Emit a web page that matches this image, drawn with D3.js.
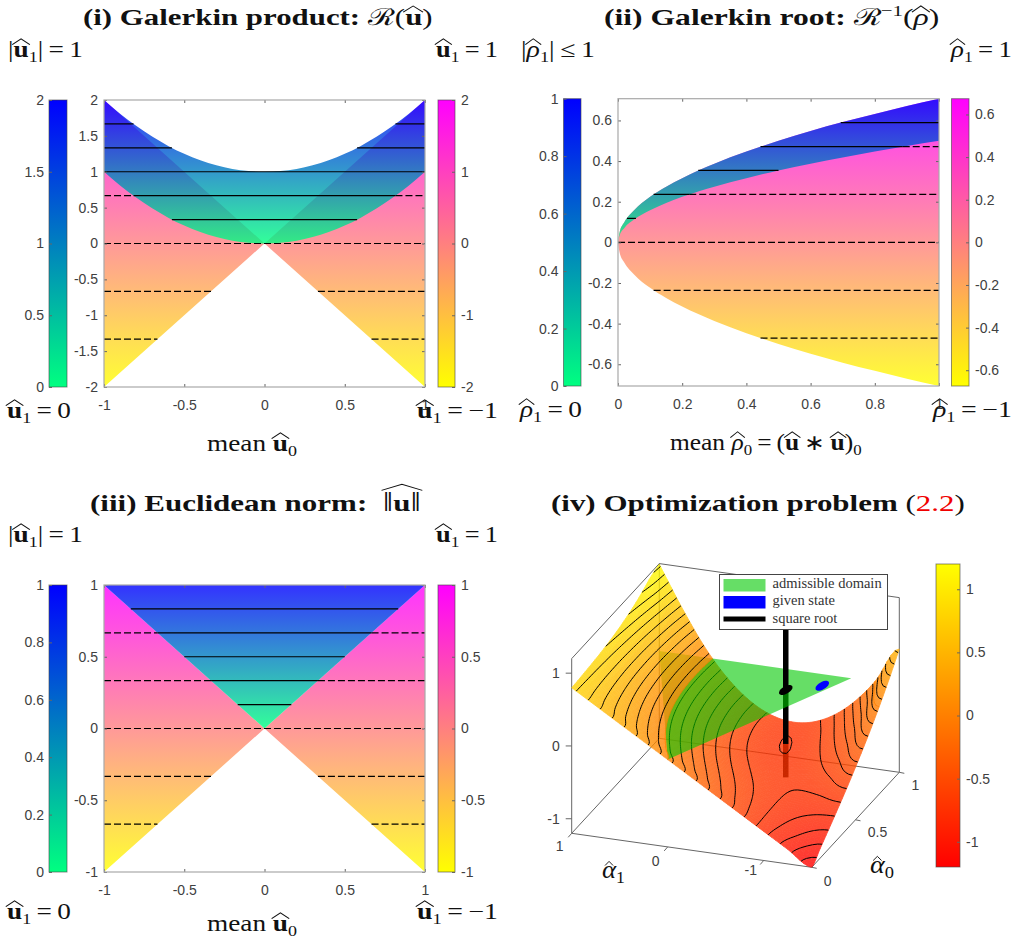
<!DOCTYPE html>
<html>
<head>
<meta charset="utf-8">
<style>
body { margin: 0; background: #fff; }
text { white-space: pre; }
.math { font-family: "Liberation Serif", serif; fill: #111; }
.tick text, .tlab { font-family: "Liberation Sans", Arial, sans-serif; font-size: 14px; fill: #404040; }
.tick line { stroke: #666; }
</style>
<script src="https://cdnjs.cloudflare.com/ajax/libs/d3/7.8.5/d3.min.js"></script>
</head>
<body>
<svg id="fig" width="1024" height="943"></svg>
<script>
// (i) Galerkin product
var productMean = [-1,-0.9,-0.8,-0.7,-0.6,-0.5,-0.4,-0.3,-0.2,-0.1,0,0.1,0.2,0.3,0.4,0.5,0.6,0.7,0.8,0.9,1];
var productUpper = [2,1.81,1.64,1.49,1.36,1.25,1.16,1.09,1.04,1.01,1,1.01,1.04,1.09,1.16,1.25,1.36,1.49,1.64,1.81,2];
var productLower = [1,0.81,0.64,0.49,0.36,0.25,0.16,0.09,0.04,0.01,0,0.01,0.04,0.09,0.16,0.25,0.36,0.49,0.64,0.81,1];
var productEdgeX = [-1,0,1];
var productEdgeTop = [2,0,2];
var productEdgeBottom = [-2,0,-2];
var productSolidLevel = [1.667,1.667,1.333,1.333,1,0.667,0.333];
var productSolidFrom = [-1,0.816,-1,0.577,-1,-0.816,-0.577];
var productSolidTo = [-0.816,1,-0.577,1,1,0.816,0.577];
var productDashLevel = [0.667,0.667,0,-0.667,-0.667,-1.333,-1.333];
var productDashFrom = [-1,0.816,-1,-1,0.333,-1,0.667];
var productDashTo = [-0.816,1,1,-0.333,1,-0.667,1];

// (ii) Galerkin root
var rootMean = [0,0.005,0.02,0.05,0.1,0.15,0.2,0.3,0.4,0.5,0.6,0.7,0.8,0.9,1];
var rootUpper = [0,0.05,0.1,0.158,0.224,0.274,0.316,0.387,0.447,0.5,0.548,0.592,0.632,0.671,0.707];
var rootLower = [0,0.035,0.071,0.112,0.158,0.194,0.224,0.274,0.316,0.354,0.387,0.418,0.447,0.474,0.5];
var rootBottom = [0,-0.05,-0.1,-0.158,-0.224,-0.274,-0.316,-0.387,-0.447,-0.5,-0.548,-0.592,-0.632,-0.671,-0.707];
var rootSolidLevel = [0.589,0.471,0.354,0.236,0.118];
var rootSolidFrom = [0.694,0.444,0.25,0.111,0.028];
var rootSolidTo = [1,0.887,0.5,0.222,0.056];
var rootDashLevel = [0.471,0.236,0,-0.236,-0.471];
var rootDashFrom = [0.887,0.222,0,0.111,0.444];
var rootDashTo = [1,1,1,1,1];

// (iii) Euclidean norm
var normEdgeX = [-1,0,1];
var normEdgeTop = [1,0,1];
var normEdgeBottom = [-1,0,-1];
var normSolidLevel = [0.833,0.667,0.5,0.333,0.167];
var normSolidFrom = [-0.833,-0.667,-0.5,-0.333,-0.167];
var normSolidTo = [0.833,0.667,0.5,0.333,0.167];
var normDashLevel = [0.667,0.667,0.333,0.333,0,-0.333,-0.333,-0.667,-0.667];
var normDashFrom = [-1,0.667,-1,0.333,-1,-1,0.333,-1,0.667];
var normDashTo = [-0.667,1,-0.333,1,1,-0.333,1,-0.667,1];

// (iv) objective surface, one row per alpha1, one column per alpha0
var alpha1Grid = [-1.5,-1.25,-1,-0.75,-0.5,-0.25,0,0.25,0.5,0.75,1];
var alpha0Grid = [0,0.1,0.2,0.3,0.4,0.5,0.6,0.7,0.8,0.9,1];
var surfaceZ = [
  [-1.2,-1.064,-0.925,-0.783,-0.635,-0.478,-0.312,-0.134,0.059,0.267,0.493],
  [-1,-0.932,-0.863,-0.789,-0.71,-0.622,-0.525,-0.415,-0.291,-0.152,0.006],
  [-0.8,-0.789,-0.775,-0.758,-0.735,-0.703,-0.662,-0.609,-0.541,-0.458,-0.357],
  [-0.6,-0.632,-0.663,-0.689,-0.71,-0.722,-0.725,-0.715,-0.691,-0.652,-0.594],
  [-0.4,-0.464,-0.525,-0.583,-0.635,-0.678,-0.712,-0.734,-0.741,-0.733,-0.707],
  [-0.2,-0.283,-0.363,-0.439,-0.51,-0.572,-0.625,-0.665,-0.691,-0.702,-0.694],
  [0,-0.089,-0.175,-0.258,-0.335,-0.403,-0.462,-0.509,-0.541,-0.558,-0.557],
  [0.2,0.117,0.037,-0.039,-0.11,-0.172,-0.225,-0.265,-0.291,-0.302,-0.294],
  [0.4,0.336,0.275,0.217,0.165,0.122,0.088,0.066,0.059,0.067,0.093],
  [0.6,0.568,0.537,0.511,0.49,0.478,0.475,0.485,0.509,0.548,0.606],
  [0.8,0.811,0.825,0.842,0.865,0.897,0.938,0.991,1.059,1.142,1.19]
];
var contourLevels = [-1.138,-1.038,-0.938,-0.838,-0.738,-0.638,-0.538,-0.438,-0.338,-0.238,-0.138,-0.038,0.062,0.162,0.262,0.362,0.462,0.562,0.662,0.762,0.862,0.962,1.062,1.162];
var admissibleA0 = [1,1,0];
var admissibleA1 = [1,-1,0];
var givenState = [0.891,-0.797];
var squareRoot = [0.803,-0.497];
var stateRadius = 0.052;
var zTicks = [-1,0,1];
var alpha1Ticks = [1,0,-1];
var alpha0Ticks = [0,0.5,1];
var legendNames = ["admissible domain","given state","square root"];

var svg = d3.select("#fig");
var defs = svg.append("defs");

var winter = ["#0000ff","#00ff80"];
var spring = ["#ff00ff","#ffff00"];
var autumn = ["#ffff00","#ff0000"];
var regionAlpha = 0.8;
var tickText = function(d) { return String(d); };

function gradient(id, colors, y0, y1) {
    var g = defs.append("linearGradient").attr("id", id)
        .attr("gradientUnits", "userSpaceOnUse")
        .attr("x1", 0).attr("x2", 0).attr("y1", y0).attr("y2", y1);
    g.append("stop").attr("offset", 0).attr("stop-color", colors[0]);
    g.append("stop").attr("offset", 1).attr("stop-color", colors[1]);
    return "url(#" + id + ")";
}

// runs: [text, flags] with b bold, i italic, s subscript, u superscript, h widehat, n narrow hat, r red, l large
function mathLabel(x, base, width, size, runs) {
    var g = svg.append("g").attr("transform", "translate(" + x + "," + base + ")");
    var t = g.append("text").attr("class", "math").style("font-size", size + "px");
    var shift = 0;
    runs.forEach(function(r) {
        var f = r[1] || "";
        var small = f.indexOf("s") >= 0 || f.indexOf("u") >= 0;
        var want = f.indexOf("s") >= 0 ? size * 0.2 : (f.indexOf("u") >= 0 ? -size * 0.38 : 0);
        t.append("tspan").text(r[0])
            .attr("dy", want - shift)
            .style("font-weight", f.indexOf("b") >= 0 ? "bold" : "normal")
            .style("font-style", f.indexOf("i") >= 0 ? "italic" : "normal")
            .style("font-size", small ? (size * 0.66) + "px" : (f.indexOf("l") >= 0 ? (size * 1.2) + "px" : null))
            .style("fill", f.indexOf("r") >= 0 ? "#f00000" : null);
        shift = want;
    });
    var node = t.node(), pos = 0, open = null;
    var hats = [];
    runs.forEach(function(r, i) {
        var f = r[1] || "", isHat = f.indexOf("h") >= 0 || f.indexOf("n") >= 0;
        if (isHat) {
            var a = node.getStartPositionOfChar(pos).x, b = node.getEndPositionOfChar(pos + r[0].length - 1).x;
            if (open && open.next === i) { open.x1 = b; open.next = i + 1; }
            else { open = {x0: a, x1: b, next: i + 1, narrow: f.indexOf("n") >= 0, tall: r[0] === "\u2016"}; hats.push(open); }
        }
        pos += r[0].length;
    });
    hats.forEach(function(h) {
        var mid = (h.x0 + h.x1) / 2;
        var lift = h.tall ? size * 0.88 : (h.narrow ? size * 0.48 : size * 0.55), rise = h.narrow ? size * 0.16 : size * 0.26;
        var half = h.narrow ? size * 0.15 : (h.x1 - h.x0) / 2 + 1;
        g.append("path")
            .attr("d", "M" + (mid - half) + "," + (-lift) + "L" + mid + "," + (-lift - rise) + "L" + (mid + half) + "," + (-lift))
            .attr("fill", "none").attr("stroke", "#111").attr("stroke-width", 0.9);
    });
    var w = node.getComputedTextLength();
    g.attr("transform", "translate(" + x + "," + base + ") scale(" + (width / w) + ",1)");
}

function colorBar(x0, x1, y0, y1, domain, ticks, fill, side) {
    var y = d3.scaleLinear().domain(domain).range([y1, y0]);
    svg.append("rect").attr("x", x0).attr("y", y0).attr("width", x1 - x0).attr("height", y1 - y0)
        .attr("fill", fill).attr("stroke", "#444").attr("stroke-opacity", 0.6);
    var axis = (side === "left" ? d3.axisLeft(y) : d3.axisRight(y)).tickValues(ticks).tickSize(-3).tickPadding(side === "left" ? 5 : 6).tickFormat(tickText);
    svg.append("g").attr("transform", "translate(" + (side === "left" ? x0 : x1) + ",0)").call(axis)
        .call(function(g) { g.select(".domain").remove(); });
}

function levelLines(x, y, level, from, to, dashed) {
    svg.append("g").selectAll("line").data(level).enter().append("line")
        .attr("x1", function(d, i) { return x(from[i]); })
        .attr("x2", function(d, i) { return x(to[i]); })
        .attr("y1", function(d) { return y(d); })
        .attr("y2", function(d) { return y(d); })
        .attr("stroke", "#000").attr("stroke-width", 1.2)
        .attr("stroke-dasharray", dashed ? "7,3" : null);
}

function frame(x, y, xTicks, yTicks) {
    var r = x.range(), s = y.range();
    svg.append("g").attr("transform", "translate(0," + s[0] + ")")
        .call(d3.axisBottom(x).tickValues(xTicks).tickSize(-3).tickPadding(13).tickFormat(tickText))
        .call(function(g) { g.select(".domain").remove(); });
    svg.append("g").attr("transform", "translate(" + r[0] + ",0)")
        .call(d3.axisLeft(y).tickValues(yTicks).tickSize(-3).tickPadding(6).tickFormat(tickText))
        .call(function(g) { g.select(".domain").remove(); });
    svg.append("g").attr("transform", "translate(0," + s[1] + ")")
        .call(d3.axisTop(x).tickValues(xTicks).tickSize(-3).tickFormat(""))
        .call(function(g) { g.select(".domain").remove(); });
    svg.append("g").attr("transform", "translate(" + r[1] + ",0)")
        .call(d3.axisRight(y).tickValues(yTicks).tickSize(-3).tickFormat(""))
        .call(function(g) { g.select(".domain").remove(); });
    svg.append("rect").attr("x", r[0]).attr("y", s[1]).attr("width", r[1] - r[0]).attr("height", s[0] - s[1])
        .attr("fill", "none").attr("stroke", "#a8a8a8").attr("stroke-width", 1.2);
}

function zipLine(xs, ys, x, y) {
    return xs.map(function(v, i) { return [x(v), y(ys[i])]; });
}

var EQ = "\u2009=\u2009";
function uHat(sub) { return [["u","bh"],[sub,"s"]]; }
function rhoHat(sub) { return [["\u03c1","ih"],[sub,"s"]]; }
var labelSize = 22.5, titleSize = 23.5;

// panel (i)
(function() {
    var x = d3.scaleLinear().domain([-1,1]).range([104,425]);
    var y = d3.scaleLinear().domain([-2,2]).range([387,100]);
    var pink = gradient("p1", spring, y(2), y(-2)), blue = gradient("b1", winter, y(2), y(0));
    var edge = zipLine(productEdgeX, productEdgeTop, x, y).concat(zipLine(productEdgeX, productEdgeBottom, x, y).reverse());
    svg.append("path").attr("d", d3.line()(edge) + "Z").attr("fill", pink).attr("fill-opacity", regionAlpha);
    var area = d3.area().x(function(d) { return x(d); })
        .y0(function(d, i) { return y(productLower[i]); })
        .y1(function(d, i) { return y(productUpper[i]); })
        .curve(d3.curveMonotoneX);
    svg.append("path").attr("d", area(productMean)).attr("fill", blue).attr("fill-opacity", regionAlpha);
    levelLines(x, y, productDashLevel, productDashFrom, productDashTo, true);
    levelLines(x, y, productSolidLevel, productSolidFrom, productSolidTo, false);
    frame(x, y, [-1,-0.5,0,0.5,1], [-2,-1.5,-1,-0.5,0,0.5,1,1.5,2]);
    colorBar(49, 67, 100, 387, [0,2], [0,0.5,1,1.5,2], gradient("cb1", winter, 100, 387), "left");
    colorBar(438, 455, 100, 387, [-2,2], [-2,-1,0,1,2], gradient("cp1", spring, 100, 387), "right");
    mathLabel(83, 25, 349, titleSize, [["(i) Galerkin product: ","b"],["\u211b"],["("],["u","bh"],[")"]]);
    mathLabel(8, 57, 75, labelSize, [["|"]].concat(uHat("1"), [["|" + EQ + "1"]]));
    mathLabel(436, 57, 62, labelSize, uHat("1").concat([[EQ + "1"]]));
    mathLabel(7, 418, 64, labelSize, uHat("1").concat([[EQ + "0"]]));
    mathLabel(417, 418, 81, labelSize, uHat("1").concat([[EQ + "\u22121"]]));
    mathLabel(207, 451, 90, labelSize, [["mean "]].concat(uHat("0")));
})();

// panel (ii)
(function() {
    var x = d3.scaleLinear().domain([0,1]).range([618,939]);
    var y = d3.scaleLinear().domain([-0.707,0.707]).range([386,98.7]);
    var pink = gradient("p2", spring, y(0.707), y(-0.707)), blue = gradient("b2", winter, y(0.707), y(0));
    var band = d3.area().x(function(d) { return x(d); }).curve(d3.curveMonotoneX);
    svg.append("path").attr("d", band.y0(function(d, i) { return y(rootBottom[i]); }).y1(function(d, i) { return y(rootUpper[i]); })(rootMean))
        .attr("fill", pink).attr("fill-opacity", regionAlpha);
    svg.append("path").attr("d", band.y0(function(d, i) { return y(rootLower[i]); }).y1(function(d, i) { return y(rootUpper[i]); })(rootMean))
        .attr("fill", blue).attr("fill-opacity", regionAlpha);
    levelLines(x, y, rootDashLevel, rootDashFrom, rootDashTo, true);
    levelLines(x, y, rootSolidLevel, rootSolidFrom, rootSolidTo, false);
    frame(x, y, [0,0.2,0.4,0.6,0.8,1], [-0.6,-0.4,-0.2,0,0.2,0.4,0.6]);
    colorBar(563.5, 581, 98.7, 386, [0,1], [0,0.2,0.4,0.6,0.8,1], gradient("cb2", winter, 98.7, 386), "left");
    colorBar(951.5, 969, 98.7, 386, [-0.674,0.674], [-0.6,-0.4,-0.2,0,0.2,0.4,0.6], gradient("cp2", spring, 98.7, 386), "right");
    mathLabel(604, 25, 335, titleSize, [["(ii) Galerkin root: ","b"],["\u211b"],["\u22121","u"],["("],["\u03c1","ih"],[")"]]);
    mathLabel(521, 57, 74, labelSize, [["|"]].concat(rhoHat("1"), [["|\u2009\u2264\u20091"]]));
    mathLabel(951, 57, 61, labelSize, rhoHat("1").concat([[EQ + "1"]]));
    mathLabel(520, 417, 62, labelSize, rhoHat("1").concat([[EQ + "0"]]));
    mathLabel(933, 417, 79, labelSize, rhoHat("1").concat([[EQ + "\u22121"]]));
    mathLabel(670, 450, 192, labelSize, [["mean "]].concat(rhoHat("0"), [[EQ + "("],["u","bh"],["\u2009\u2217\u2009"],["u","bh"],[")"],["0","s"]]));
})();

// panel (iii)
(function() {
    var x = d3.scaleLinear().domain([-1,1]).range([104,425]);
    var y = d3.scaleLinear().domain([-1,1]).range([872,585]);
    var pink = gradient("p3", spring, y(1), y(-1)), blue = gradient("b3", winter, y(1), y(0));
    var edge = zipLine(normEdgeX, normEdgeTop, x, y).concat(zipLine(normEdgeX, normEdgeBottom, x, y).reverse());
    svg.append("path").attr("d", d3.line()(edge) + "Z").attr("fill", pink).attr("fill-opacity", regionAlpha);
    svg.append("path").attr("d", d3.line()(zipLine(normEdgeX, normEdgeTop, x, y)) + "Z").attr("fill", blue).attr("fill-opacity", regionAlpha);
    levelLines(x, y, normDashLevel, normDashFrom, normDashTo, true);
    levelLines(x, y, normSolidLevel, normSolidFrom, normSolidTo, false);
    frame(x, y, [-1,-0.5,0,0.5,1], [-1,-0.5,0,0.5,1]);
    colorBar(49, 67, 585, 872, [0,1], [0,0.2,0.4,0.6,0.8,1], gradient("cb3", winter, 585, 872), "left");
    colorBar(438, 455, 585, 872, [-1,1], [-1,-0.5,0,0.5,1], gradient("cp3", spring, 585, 872), "right");
    mathLabel(90, 511, 331, titleSize, [["(iii) Euclidean norm:  ","b"],["\u2016","hl"],["u","bh"],["\u2016","hl"]]);
    mathLabel(8, 542, 75, labelSize, [["|"]].concat(uHat("1"), [["|" + EQ + "1"]]));
    mathLabel(436, 542, 62, labelSize, uHat("1").concat([[EQ + "1"]]));
    mathLabel(7, 919, 64, labelSize, uHat("1").concat([[EQ + "0"]]));
    mathLabel(417, 919, 81, labelSize, uHat("1").concat([[EQ + "\u22121"]]));
    mathLabel(207, 931, 90, labelSize, [["mean "]].concat(uHat("0")));
})();

// panel (iv)
(function() {
    var a1x = d3.scaleLinear().domain([1,-1.5]).range([571.7,811.7]);
    var a1y = d3.scaleLinear().domain([1,-1.5]).range([833.3,867.3]);
    var a0x = d3.scaleLinear().domain([0,1]).range([0,87.6]);
    var a0y = d3.scaleLinear().domain([0,1]).range([0,-95]);
    var zy = d3.scaleLinear().domain([-1.2,1.2]).range([0,-174.7]);
    var zColor = d3.scaleLinear().domain([-1.2,1.2]).range(["#ff0000","#ffff00"]).clamp(true);
    function project(a0, a1, z) { return [a1x(a1) + a0x(a0), a1y(a1) + a0y(a0) + zy(z)]; }
    var boxLine = d3.line();

    var edges = [
        [[0,1,-1.2],[0,-1.5,-1.2]], [[0,-1.5,-1.2],[1,-1.5,-1.2]], [[1,-1.5,-1.2],[1,1,-1.2]], [[1,1,-1.2],[0,1,-1.2]],
        [[0,1,-1.2],[0,1,1.2]], [[0,1,1.2],[1,1,1.2]], [[1,1,1.2],[1,-1.5,1.2]], [[1,-1.5,1.2],[1,-1.5,-1.2]], [[1,1,-1.2],[1,1,1.2]]
    ];
    svg.append("g").selectAll("path").data(edges).enter().append("path")
        .attr("d", function(e) { return boxLine(e.map(function(p) { return project(p[0], p[1], p[2]); })); })
        .attr("fill", "none").attr("stroke", "#666").attr("stroke-width", 1);

    // resample the table for shading and contours
    var up = 6, nA = alpha1Grid.length, nB = alpha0Grid.length;
    var N = (nA - 1) * up + 1, M = (nB - 1) * up + 1;
    function cubic(p0, p1, p2, p3, t) {
        return 0.5 * (2 * p1 + (p2 - p0) * t + (2 * p0 - 5 * p1 + 4 * p2 - p3) * t * t + (3 * p1 - p0 - 3 * p2 + p3) * t * t * t);
    }
    function at(i, j) {
        var ii = Math.max(0, Math.min(nA - 1, i)), jj = Math.max(0, Math.min(nB - 1, j));
        var v = surfaceZ[ii][jj];
        if (i !== ii) v += (i - ii) * (surfaceZ[ii][jj] - surfaceZ[ii === 0 ? 1 : nA - 2][jj]);
        if (j !== jj) v += (j - jj) * (surfaceZ[ii][jj] - surfaceZ[ii][jj === 0 ? 1 : nB - 2]);
        return v;
    }
    function row(i, j0, t) { return cubic(at(i, j0 - 1), at(i, j0), at(i, j0 + 1), at(i, j0 + 2), t); }
    var fine = new Array(N * M);
    d3.range(M).forEach(function(j) {
        d3.range(N).forEach(function(i) {
            var i0 = Math.min(Math.floor(i / up), nA - 2), ti = i / up - i0;
            var j0 = Math.min(Math.floor(j / up), nB - 2), tj = j / up - j0;
            fine[i + j * N] = cubic(row(i0 - 1, j0, tj), row(i0, j0, tj), row(i0 + 1, j0, tj), row(i0 + 2, j0, tj), ti);
        });
    });
    var fineA1 = d3.scaleLinear().domain([0, N - 1]).range([alpha1Grid[0], alpha1Grid[nA - 1]]);
    var fineA0 = d3.scaleLinear().domain([0, M - 1]).range([alpha0Grid[0], alpha0Grid[nB - 1]]);
    function fineProject(i, j, z) { return project(fineA0(j), fineA1(i), z); }

    var cells = [];
    d3.range(M - 2, -1, -1).forEach(function(j) {
        d3.range(N - 1).forEach(function(i) {
            cells.push([
                [i, j, fine[i + j * N]], [i + 1, j, fine[i + 1 + j * N]],
                [i + 1, j + 1, fine[i + 1 + (j + 1) * N]], [i, j + 1, fine[i + (j + 1) * N]]
            ]);
        });
    });
    // cut a cell where it crosses the green plane, keep the part on one side
    function clipCell(cell, sign) {
        var out = [];
        cell.forEach(function(p, k) {
            var q = cell[(k + 1) % cell.length], sp = p[2] * sign, sq = q[2] * sign;
            if (sp >= 0) out.push(p);
            if ((sp > 0 && sq < 0) || (sp < 0 && sq > 0)) {
                var t = p[2] / (p[2] - q[2]);
                out.push([p[0] + t * (q[0] - p[0]), p[1] + t * (q[1] - p[1]), 0]);
            }
        });
        return out;
    }
    function drawSurface(sign) {
        var parts = cells.map(function(c) { return clipCell(c, sign); }).filter(function(c) { return c.length > 2; });
        function tone(c) { return zColor(d3.mean(c, function(p) { return p[2]; })); }
        svg.append("g").attr("opacity", 0.8).selectAll("path").data(parts).enter().append("path")
            .attr("d", function(c) { return boxLine(c.map(function(p) { return fineProject(p[0], p[1], p[2]); })) + "Z"; })
            .attr("fill", tone).attr("stroke", tone).attr("stroke-width", 0.8);
    }
    function drawContours(levels) {
        var sets = d3.contours().size([N, M]).thresholds(levels)(fine);
        var d = "";
        var line = d3.line();
        sets.forEach(function(c) {
            c.coordinates.forEach(function(poly) {
                poly.forEach(function(ring) {
                    var run = [];
                    ring.forEach(function(p) {
                        var inside = p[0] >= 0.5 && p[0] <= N - 0.5 && p[1] >= 0.5 && p[1] <= M - 0.5;
                        if (inside) run.push(fineProject(p[0] - 0.5, p[1] - 0.5, c.value));
                        else { if (run.length > 1) d += line(run); run = []; }
                    });
                    if (run.length > 1) d += line(run);
                });
            });
        });
        svg.append("path").attr("d", d).attr("fill", "none").attr("stroke", "#000").attr("stroke-width", 1);
    }
    function bar(z0, z1, color) {
        svg.append("path").attr("d", boxLine([project(squareRoot[0], squareRoot[1], z0), project(squareRoot[0], squareRoot[1], z1)]))
            .attr("stroke", color).attr("stroke-width", 5.5).attr("fill", "none");
    }
    function stateDisc(state, color) {
        var pts = d3.range(0, 24).map(function(k) {
            var t = k / 24 * 2 * Math.PI;
            return project(state[0] + stateRadius * Math.cos(t), state[1] + stateRadius * Math.sin(t), 0);
        });
        svg.append("path").attr("d", boxLine(pts) + "Z").attr("fill", color);
    }

    var rootHit = -0.741;
    bar(-1.2, rootHit, "#000");
    drawSurface(-1);
    drawContours(contourLevels.filter(function(v) { return v < 0; }));
    bar(rootHit, 0, "#000");
    svg.append("path")
        .attr("d", boxLine(admissibleA0.map(function(a, i) { return project(a, admissibleA1[i], 0); })) + "Z")
        .attr("fill", "#00c800").attr("fill-opacity", 0.6);
    stateDisc(givenState, "#0000ff");
    stateDisc(squareRoot, "#000");
    bar(0, 1.2, "#000");
    drawSurface(1);
    drawContours(contourLevels.filter(function(v) { return v > 0; }));

    // tick marks and labels on the box
    zTicks.forEach(function(v) {
        var p = project(0, 1, v);
        svg.append("line").attr("x1", p[0] - 6).attr("x2", p[0]).attr("y1", p[1]).attr("y2", p[1]).attr("stroke", "#666");
        svg.append("text").attr("class", "tlab").attr("x", p[0] - 12).attr("y", p[1] + 5).attr("text-anchor", "end").text(tickText(v));
    });
    var a1Offset = [[-12,18],[-12,19],[-13,14]];
    alpha1Ticks.forEach(function(v, i) {
        var p = project(0, v, -1.2);
        svg.append("line").attr("x1", p[0]).attr("x2", p[0] - 3.5).attr("y1", p[1]).attr("y2", p[1] + 4).attr("stroke", "#666");
        svg.append("text").attr("class", "tlab").attr("x", p[0] + a1Offset[i][0]).attr("y", p[1] + a1Offset[i][1]).attr("text-anchor", "middle").text(tickText(v));
    });
    var a0Offset = [[16,19],[22,17],[16,18]];
    alpha0Ticks.forEach(function(v, i) {
        var p = project(v, -1.5, -1.2);
        svg.append("line").attr("x1", p[0]).attr("x2", p[0] + 5).attr("y1", p[1]).attr("y2", p[1] + 1).attr("stroke", "#666");
        svg.append("text").attr("class", "tlab").attr("x", p[0] + a0Offset[i][0]).attr("y", p[1] + a0Offset[i][1]).attr("text-anchor", "middle").text(tickText(v));
    });

    // legend
    var legend = svg.append("g");
    legend.append("rect").attr("x", 719.5).attr("y", 574.5).attr("width", 168).attr("height", 55)
        .attr("fill", "#fff").attr("stroke", "#444");
    legend.append("rect").attr("x", 723.5).attr("y", 579).attr("width", 42).attr("height", 12.5)
        .attr("fill", "#00c800").attr("fill-opacity", 0.6);
    legend.append("rect").attr("x", 723.5).attr("y", 596).attr("width", 42).attr("height", 12.5).attr("fill", "#0000ff");
    legend.append("line").attr("x1", 723.5).attr("x2", 765.5).attr("y1", 619).attr("y2", 619).attr("stroke", "#000").attr("stroke-width", 5);
    legendNames.forEach(function(name, i) {
        legend.append("text").attr("class", "math").attr("x", 772.5).attr("y", 588 + i * 17.3)
            .style("font-size", "14.5px").style("fill", "#333").text(name);
    });

    colorBar(936, 960, 564, 867, [-1.2,1.2], [-1,-0.5,0,0.5,1], gradient("cz", autumn, 564, 867), "right");
    mathLabel(551, 511, 414, titleSize, [["(iv) Optimization problem ","b"],["("],["2.2","r"],[")"]]);
    mathLabel(602, 878, 23, 26, [["\u03b1","in"],["1","s"]]);
    mathLabel(870, 873, 24, 26, [["\u03b1","in"],["0","s"]]);
})();
</script>
</body>
</html>
